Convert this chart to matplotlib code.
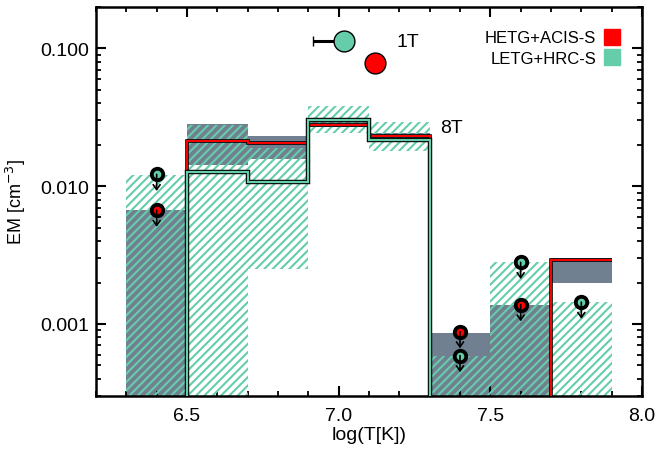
import matplotlib
matplotlib.use('Agg')

import matplotlib.pyplot as plt
from matplotlib.lines import Line2D
from matplotlib.ticker import MultipleLocator, FuncFormatter
import numpy as np

plt.rcParams['font.family'] = ['Liberation Sans', 'DejaVu Sans']
plt.rcParams['hatch.linewidth'] = 1.5

RED = '#ff0000'
GREEN = '#66cdaa'
GRAY = '#708090'
FLOOR = 1e-6   # stands in for "below the plot"

# temperature bins (log T)
edges = np.array([6.3, 6.5, 6.7, 6.9, 7.1, 7.3, 7.5, 7.7, 7.9])
centers = (edges[:-1] + edges[1:]) / 2

# HETG+ACIS-S: best fit histogram and range boxes
hetg_em = [FLOOR, 0.0214, 0.0205, 0.028, 0.0233, FLOOR, FLOOR, 0.0029]
hetg_lo = [FLOOR, 0.0143, 0.0158, 0.0270, 0.0225, FLOOR, FLOOR, 0.0020]
hetg_hi = [0.0067, 0.0285, 0.0233, 0.0295, 0.0245, 0.00086, 0.00138, 0.0030]

# LETG+HRC-S: best fit histogram (6.5-7.3) and range boxes
letg_edges = [6.5, 6.7, 6.9, 7.1, 7.3]
letg_em = [0.0126, 0.0107, 0.0305, 0.0218]
letg_lo = [FLOOR, FLOOR, 0.0025, 0.0245, 0.018, FLOOR, FLOOR, FLOOR]
letg_hi = [0.012, 0.028, 0.019, 0.038, 0.0294, 0.00059, 0.0028, 0.00144]

# upper limits
hetg_ul_x = [6.4, 7.4, 7.6]
hetg_ul_y = [0.0067, 0.00088, 0.00138]
letg_ul_x = [6.4, 7.4, 7.6, 7.8]
letg_ul_y = [0.0122, 0.00059, 0.0028, 0.00144]

# 1T fits
letg_1t = (7.017, 0.114, 0.1)
hetg_1t = (7.12, 0.079)

fig = plt.figure(figsize=(6.57, 4.52), dpi=100)
ax = fig.add_axes([96 / 657, 1 - 397 / 452, 546 / 657, 389 / 452])
ax.set_yscale('log')

widths = np.diff(edges)
hetg_lo = np.array(hetg_lo)
letg_lo = np.array(letg_lo)
ax.bar(centers, np.array(hetg_hi) - hetg_lo, bottom=hetg_lo, width=widths,
       color=GRAY, linewidth=0, zorder=1)
ax.bar(centers, np.array(letg_hi) - letg_lo, bottom=letg_lo, width=widths,
       color='none', edgecolor=GREEN, hatch='////', linewidth=0, zorder=2)

# step lines with black outline
ax.stairs(hetg_em, edges, baseline=None, color='k', lw=2.6, zorder=3)
ax.stairs(hetg_em, edges, baseline=None, color=RED, lw=1.4, zorder=3.1)
ax.stairs(letg_em, letg_edges, baseline=FLOOR, color='k', lw=3.2, zorder=3.2)
ax.stairs(letg_em, letg_edges, baseline=FLOOR, color=GREEN, lw=1.6, zorder=3.3)


def upper_limits(xs, ys, col):
    ax.plot(xs, ys, 'o', ms=10, color='k', zorder=5)
    ax.plot(xs, ys, 'o', ms=4.5, color=col, zorder=6)
    for x, y in zip(xs, ys):
        ax.annotate('', xy=(x, y), xytext=(0, -12), textcoords='offset points',
                    arrowprops=dict(arrowstyle='<-,head_length=0.35,head_width=0.25',
                                    color='k', lw=1.2, shrinkA=0, shrinkB=0),
                    zorder=7)


upper_limits(hetg_ul_x, hetg_ul_y, RED)
upper_limits(letg_ul_x, letg_ul_y, GREEN)

ax.errorbar(letg_1t[0], letg_1t[1], xerr=[[letg_1t[2]], [0]], fmt='o', ms=15,
            mfc=GREEN, mec='k', mew=1, ecolor='k', elinewidth=2.2, capsize=3.5,
            capthick=2.2, zorder=5)
ax.plot(hetg_1t[0], hetg_1t[1], 'o', ms=15, mfc=RED, mec='k', mew=1, zorder=5)

ax.text(7.19, 0.113, '1T', fontsize=14, va='center', ha='left')
ax.text(7.335, 0.0265, '8T', fontsize=14, va='center', ha='left')

handles = [Line2D([], [], marker='s', ls='none', color=RED, ms=11),
           Line2D([], [], marker='s', ls='none', color=GREEN, ms=11)]
ax.legend(handles, ['HETG+ACIS-S', 'LETG+HRC-S'], loc='upper right',
          markerfirst=False, frameon=False, fontsize=12, handlelength=0.8,
          handletextpad=0.55, labelspacing=0.35, borderaxespad=1.0)

ax.set_xlim(6.2, 8.0)
ax.set_ylim(3e-4, 0.2)
ax.xaxis.set_major_locator(MultipleLocator(0.5))
ax.xaxis.set_minor_locator(MultipleLocator(0.1))
ax.xaxis.set_major_formatter(FuncFormatter(lambda v, p: '%.1f' % v))
ax.yaxis.set_major_formatter(FuncFormatter(lambda v, p: '%.3f' % v))

ax.tick_params(which='both', direction='in', top=True, right=True, labelsize=14)
ax.tick_params(which='major', length=7, width=1.5)
ax.tick_params(axis='x', which='major', pad=8)
ax.tick_params(axis='y', which='major', pad=5)
ax.tick_params(which='minor', length=3.5, width=1.3)
for s in ax.spines.values():
    s.set_linewidth(1.8)

ax.set_xlabel('log(T[K])', fontsize=14)
ax.set_ylabel('EM [cm$^{-3}$]', fontsize=13)
ax.xaxis.set_label_coords(0.5, -0.077)
ax.yaxis.set_label_coords(-0.125, 0.5)

plt.savefig('out.png', dpi=100)
